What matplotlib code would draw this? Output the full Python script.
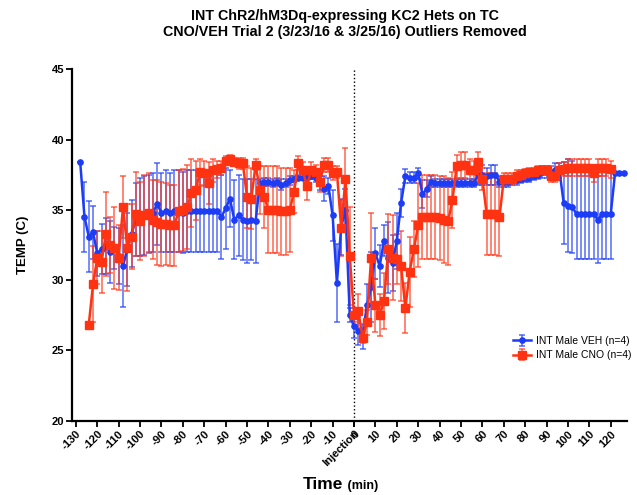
import numpy as np
import matplotlib
matplotlib.use("Agg")
import matplotlib.pyplot as plt

plt.rcParams['font.family'] = ['Liberation Sans', 'DejaVu Sans']

# sampling grid (min relative to injection)
veh_time = np.arange(-128, 127, 2)
cno_time = np.arange(-124, 121, 2)

# INT Male VEH, mean and SEM, -128 .. 126 min
veh_mean = [
    38.4, 34.5, 33.1, 33.4, 31.9, 32.2, 32.4, 32.0, 32.3, 31.7,
    31.0, 32.2, 33.3, 34.3, 34.5, 34.6, 34.7, 34.8, 35.4, 34.8,
    34.9, 34.8, 34.9, 34.9, 34.8, 34.9, 34.9, 34.9, 34.9, 34.9,
    34.9, 34.9, 34.9, 34.5, 35.1, 35.8, 34.3, 34.6, 34.3, 34.2,
    34.3, 34.2, 36.9, 37.0, 37.0, 36.9, 37.0, 36.8, 36.9, 37.1,
    37.2, 37.3, 37.3, 37.3, 37.4, 37.3, 36.9, 36.5, 36.7, 34.6,
    29.8, 33.8, 35.0, 27.5, 26.7, 26.4, 26.0, 28.2, 29.5, 31.9,
    31.0, 32.8, 31.6, 31.2, 32.8, 35.5, 37.4, 37.3, 37.3, 37.6,
    36.1, 36.5, 37.0, 36.9, 36.9, 36.9, 36.9, 36.9, 36.9, 36.9,
    36.9, 36.9, 36.9, 37.5, 37.5, 37.4, 37.5, 37.5, 37.0, 37.0,
    37.0, 37.1, 37.1, 37.2, 37.3, 37.3, 37.4, 37.5, 37.7, 37.7,
    37.7, 37.8, 37.8, 35.5, 35.3, 35.2, 34.7, 34.7, 34.7, 34.7,
    34.7, 34.3, 34.7, 34.7, 34.7, 37.6, 37.6, 37.6,
]
veh_sem = [
    0.0, 2.5, 2.55, 1.9, 1.6, 1.8, 2.0, 2.2, 1.5, 2.0,
    2.9, 2.6, 2.4, 2.6, 2.8, 2.8, 2.8, 2.8, 2.9, 2.8,
    2.9, 2.8, 2.9, 2.9, 2.9, 2.9, 2.9, 2.9, 2.9, 2.9,
    2.9, 2.9, 2.9, 3.0, 2.9, 2.0, 2.8, 2.9, 2.9, 3.0,
    2.9, 3.0, 0.3, 0.3, 0.3, 0.3, 0.3, 0.4, 0.3, 0.3,
    0.2, 0.2, 0.2, 0.2, 0.2, 0.3, 0.5, 0.9, 0.6, 1.8,
    2.8, 2.0, 1.5, 0.5, 0.8, 1.0, 0.9, 1.5, 2.5, 1.8,
    1.5, 1.1, 2.5, 2.0, 2.0, 1.0, 0.5, 0.4, 0.4, 0.4,
    1.0, 0.6, 0.4, 0.3, 0.3, 0.3, 0.3, 0.3, 0.3, 0.3,
    0.3, 0.3, 0.3, 0.7, 0.7, 0.6, 0.7, 0.7, 0.4, 0.4,
    0.4, 0.3, 0.3, 0.3, 0.3, 0.3, 0.3, 0.3, 0.4, 0.4,
    0.4, 0.5, 0.5, 2.9, 3.3, 3.3, 3.2, 3.2, 3.2, 3.2,
    3.2, 3.1, 3.2, 3.2, 3.2, 0.0, 0.0, 0.0,
]

# INT Male CNO, mean and SEM, -124 .. 120 min
cno_mean = [
    26.8, 29.7, 31.6, 31.3, 33.3, 32.5, 32.3, 31.6, 35.2, 32.3,
    33.1, 34.7, 34.2, 34.6, 34.8, 34.3, 34.1, 34.0, 34.0, 33.9,
    33.9, 34.9, 35.0, 35.2, 36.2, 36.4, 37.7, 37.6, 36.9, 37.8,
    37.9, 38.0, 38.5, 38.6, 38.4, 38.3, 38.3, 35.9, 35.8, 38.2,
    36.4, 35.9, 35.0, 35.0, 35.0, 34.9, 34.9, 35.0, 36.3, 38.3,
    37.8, 36.7, 37.8, 37.7, 37.0, 38.2, 38.2, 37.6, 37.7, 33.7,
    37.2, 31.7, 27.5, 27.8, 25.9, 27.0, 31.6, 28.2, 27.5, 28.5,
    32.2, 31.6, 31.5, 31.0, 28.0, 30.6, 32.2, 33.9, 34.5, 34.5,
    34.5, 34.5, 34.4, 34.3, 34.2, 35.7, 38.1, 38.2, 38.2, 37.8,
    37.8, 38.4, 37.2, 34.7, 34.7, 34.7, 34.5, 37.2, 37.2, 37.2,
    37.4, 37.5, 37.6, 37.7, 37.7, 37.8, 37.8, 37.8, 37.4, 37.4,
    37.8, 37.9, 38.0, 38.0, 38.0, 38.0, 38.0, 38.0, 37.6, 38.0,
    38.0, 38.0, 37.9,
]
cno_sem = [
    0.2, 2.7, 1.9, 2.2, 3.0, 2.0, 2.9, 2.3, 2.2, 3.1,
    2.3, 3.0, 2.8, 2.9, 2.8, 2.8, 3.0, 3.0, 2.9, 2.9,
    2.9, 2.9, 2.9, 3.0, 2.4, 2.1, 0.9, 0.9, 1.5, 0.8,
    0.6, 0.5, 0.3, 0.3, 0.3, 0.4, 0.4, 2.2, 2.2, 0.4,
    1.7, 2.2, 3.1, 3.1, 3.1, 3.1, 3.1, 3.0, 1.5, 0.5,
    0.6, 1.0, 0.6, 0.5, 0.7, 0.5, 0.5, 0.5, 0.4, 2.0,
    2.2, 3.5, 0.5, 1.2, 0.4, 0.9, 3.2, 1.9, 1.5, 2.0,
    2.5, 3.0, 1.8, 2.5, 1.8, 2.5, 2.0, 3.0, 3.0, 3.0,
    3.0, 3.0, 3.0, 3.1, 3.1, 2.0, 0.8, 0.9, 0.9, 0.8,
    0.7, 0.7, 0.8, 2.9, 2.9, 2.9, 2.8, 0.4, 0.4, 0.4,
    0.4, 0.3, 0.3, 0.3, 0.3, 0.3, 0.3, 0.3, 0.4, 0.4,
    0.5, 0.5, 0.6, 0.6, 0.6, 0.6, 0.6, 0.6, 0.6, 0.6,
    0.6, 0.6, 0.6,
]

xtick_pos = list(range(-130, 121, 10))
ytick_pos = [20, 25, 30, 35, 40, 45]

BLUE = '#1c3cf5'
RED = '#ff3312'

fig = plt.figure(figsize=(6.37, 4.95), dpi=100)
ax = fig.add_axes([0.1138, 0.1503, 0.8705, 0.7097])


def draw_series(t, mean, sem, color, marker, ms, label):
    cont = ax.errorbar(t, mean, yerr=sem, color=color, marker=marker, ms=ms,
                       mec=color, lw=1.8, elinewidth=1.1, capsize=2.5,
                       capthick=1.1, label=label)
    for cap in cont[1]:
        cap.set_alpha(0.75)
    for bar in cont[2]:
        bar.set_alpha(0.75)
    return cont


draw_series(veh_time, veh_mean, veh_sem, BLUE, 'o', 3.8, 'INT Male VEH (n=4)')
draw_series(cno_time, cno_mean, cno_sem, RED, 's', 5.2, 'INT Male CNO (n=4)')

# injection marker
ax.axvline(0, color='black', ls=':', lw=1.0, zorder=0)

ax.set_xlim(-131.6, 127.6)
ax.set_ylim(20, 45)

for side in ('top', 'right'):
    ax.spines[side].set_visible(False)
for side in ('left', 'bottom'):
    ax.spines[side].set_linewidth(1.6)

tick_font = dict(fontsize=8, fontweight='bold')
ax.set_yticks(ytick_pos)
ax.set_yticklabels([str(v) for v in ytick_pos], **tick_font)
ax.set_xticks(xtick_pos)
ax.set_xticklabels([str(v) for v in xtick_pos], rotation=45, ha='right',
                   rotation_mode='anchor', **tick_font)
# second label sharing the 0 position
ax.xaxis.remove_overlapping_locs = False
ax.set_xticks([0], labels=['Injection'], minor=True, rotation=45, ha='right',
              rotation_mode='anchor', **tick_font)
ax.tick_params(axis='both', which='both', direction='out', length=4,
               width=1.3, pad=2)

ax.set_ylabel('TEMP (C)', fontsize=9.5, fontweight='bold', labelpad=16)
fig.text(0.538, 0.012, 'Time', fontsize=12.5, fontweight='bold', ha='right')
fig.text(0.540, 0.012, ' (min)', fontsize=9, fontweight='bold', ha='left')

fig.text(0.542, 1 - 15.7 / 495, 'INT ChR2/hM3Dq-expressing KC2 Hets on TC',
         fontsize=10.3, fontweight='bold', ha='center', va='center')
fig.text(0.542, 1 - 32.3 / 495, 'CNO/VEH Trial 2 (3/23/16 & 3/25/16) Outliers Removed',
         fontsize=10.3, fontweight='bold', ha='center', va='center')

leg = ax.legend(loc='lower right', bbox_to_anchor=(1.025, 0.145), frameon=False,
                fontsize=7.5, handlelength=1.7, handletextpad=0.5,
                labelspacing=0.4)

fig.savefig('out.png', dpi=100)
